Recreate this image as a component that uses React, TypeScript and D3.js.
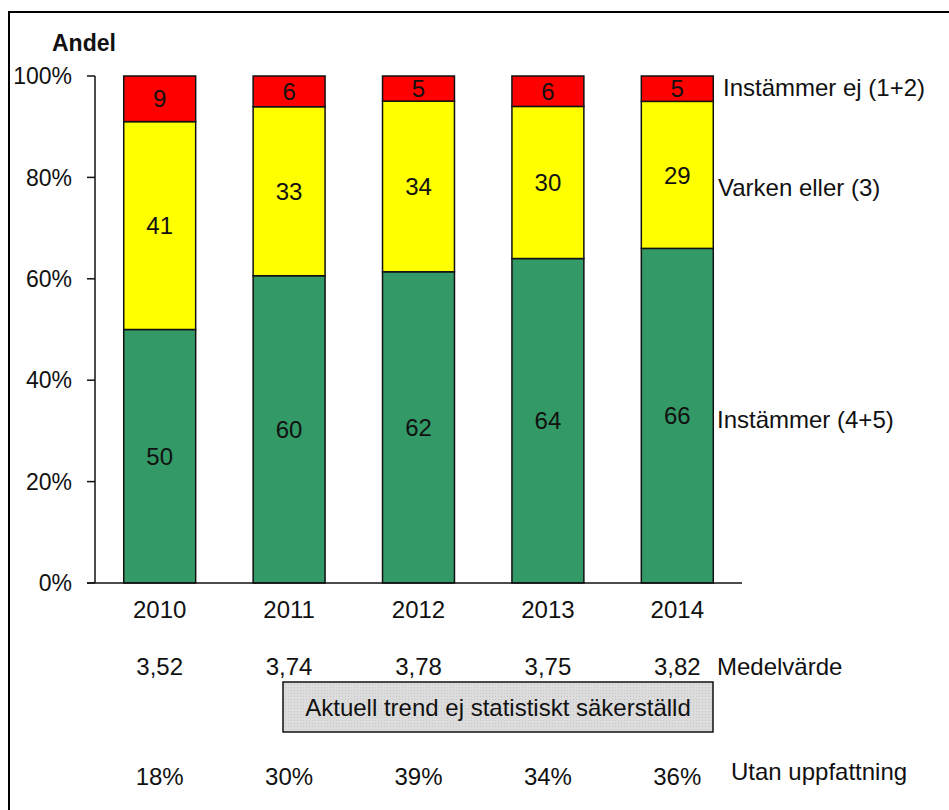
import React from "react";
import * as d3 from "d3";

const years = ["2010", "2011", "2012", "2013", "2014"];
const agree = [50, 60, 62, 64, 66];
const neutral = [41, 33, 34, 30, 29];
const disagree = [9, 6, 5, 6, 5];
const means = ["3,52", "3,74", "3,78", "3,75", "3,82"];
const noOpinion = ["18%", "30%", "39%", "34%", "36%"];
const yTicks = [0, 0.2, 0.4, 0.6, 0.8, 1];
const seriesNames = ["Instämmer (4+5)", "Varken eller (3)", "Instämmer ej (1+2)"];
const seriesColors = ["#339966", "#ffff00", "#ff0000"];
const trendText = "Aktuell trend ej statistiskt säkerställd";

const W = 949;
const H = 810;
const FONT = "'Liberation Sans', Arial, sans-serif";
const FS = 24;

export default function App() {
  const left = 95, right = 742, top = 76, bottom = 583;
  const x = d3.scaleBand<string>().domain(years).range([left, right]).paddingInner(0.444).paddingOuter(0.222);
  const y = d3.scaleLinear().domain([0, 1]).range([bottom, top]);

  const rows = years.map((yr, i) => {
    const tot = agree[i] + neutral[i] + disagree[i];
    return { year: yr, s0: agree[i] / tot, s1: neutral[i] / tot, s2: disagree[i] / tot, v0: agree[i], v1: neutral[i], v2: disagree[i] };
  });
  const stack = d3.stack<any>().keys(["s0", "s1", "s2"])(rows);
  const valKeys = ["v0", "v1", "v2"];
  const last = rows.length - 1;
  const labelYs = [
    (y(stack[0][last][0]) + y(stack[0][last][1])) / 2 + 4,
    (y(stack[1][last][0]) + y(stack[1][last][1])) / 2 + 12,
    (y(stack[2][last][0]) + y(stack[2][last][1])) / 2 - 1,
  ];
  const labelXs = [717, 718, 723];

  return (
    <svg width={W} height={H} style={{ display: "block", position: "absolute", left: 0, top: 0 }} fontFamily={FONT}>
      <rect x={0} y={0} width={W} height={H} fill="#fff" />
      <rect x={9} y={12} width={W + 20} height={H + 20} fill="none" stroke="#000" strokeWidth={2} />
      <text x={52} y={51} fontSize={23} fontWeight="bold" fill="#111">Andel</text>

      {stack.map((layer, li) =>
        layer.map((d, i) => (
          <g key={`${li}-${i}`}>
            <rect
              x={x(years[i])!}
              y={y(d[1])}
              width={x.bandwidth()}
              height={y(d[0]) - y(d[1])}
              fill={seriesColors[li]}
              stroke="#111"
              strokeWidth={1.5}
            />
            <text
              x={x(years[i])! + x.bandwidth() / 2}
              y={(y(d[0]) + y(d[1])) / 2}
              dy="0.36em"
              textAnchor="middle"
              fontSize={FS}
              fill="#111"
            >
              {(d.data as any)[valKeys[li]]}
            </text>
          </g>
        ))
      )}

      {/* y axis */}
      <line x1={left} x2={left} y1={top} y2={bottom} stroke="#111" strokeWidth={1.5} />
      {yTicks.map((t) => (
        <g key={t}>
          <line x1={87} x2={left} y1={y(t)} y2={y(t)} stroke="#111" strokeWidth={1.5} />
          <text x={72} y={y(t)} dy="0.36em" textAnchor="end" fontSize={23} fill="#111">
            {d3.format(".0%")(t)}
          </text>
        </g>
      ))}
      <line x1={87} x2={right} y1={bottom} y2={bottom} stroke="#111" strokeWidth={1.5} />

      {years.map((yr, i) => (
        <g key={yr}>
          <text x={x(yr)! + x.bandwidth() / 2} y={618} textAnchor="middle" fontSize={FS} fill="#111">{yr}</text>
          <text x={x(yr)! + x.bandwidth() / 2} y={675} textAnchor="middle" fontSize={FS} fill="#111">{means[i]}</text>
          <text x={x(yr)! + x.bandwidth() / 2} y={785} textAnchor="middle" fontSize={FS} fill="#111">{noOpinion[i]}</text>
        </g>
      ))}

      {seriesNames.map((n, i) => (
        <text key={n} x={labelXs[i]} y={labelYs[i]} dy="0.36em" fontSize={FS} fill="#111">{n}</text>
      ))}
      <text x={717} y={675} fontSize={FS} fill="#111">Medelvärde</text>
      <text x={731} y={780} fontSize={FS} fill="#111">Utan uppfattning</text>

      <defs>
        <pattern id="dots" width={3} height={3} patternUnits="userSpaceOnUse">
          <rect width={3} height={3} fill="#dcdcdc" />
          <rect width={1} height={1} fill="#c8c8c8" />
        </pattern>
      </defs>
      <rect x={283} y={682} width={430} height={50} fill="url(#dots)" stroke="#111" strokeWidth={1.5} />
      <text x={498} y={707} dy="0.36em" textAnchor="middle" fontSize={FS} fill="#111">{trendText}</text>
    </svg>
  );
}
